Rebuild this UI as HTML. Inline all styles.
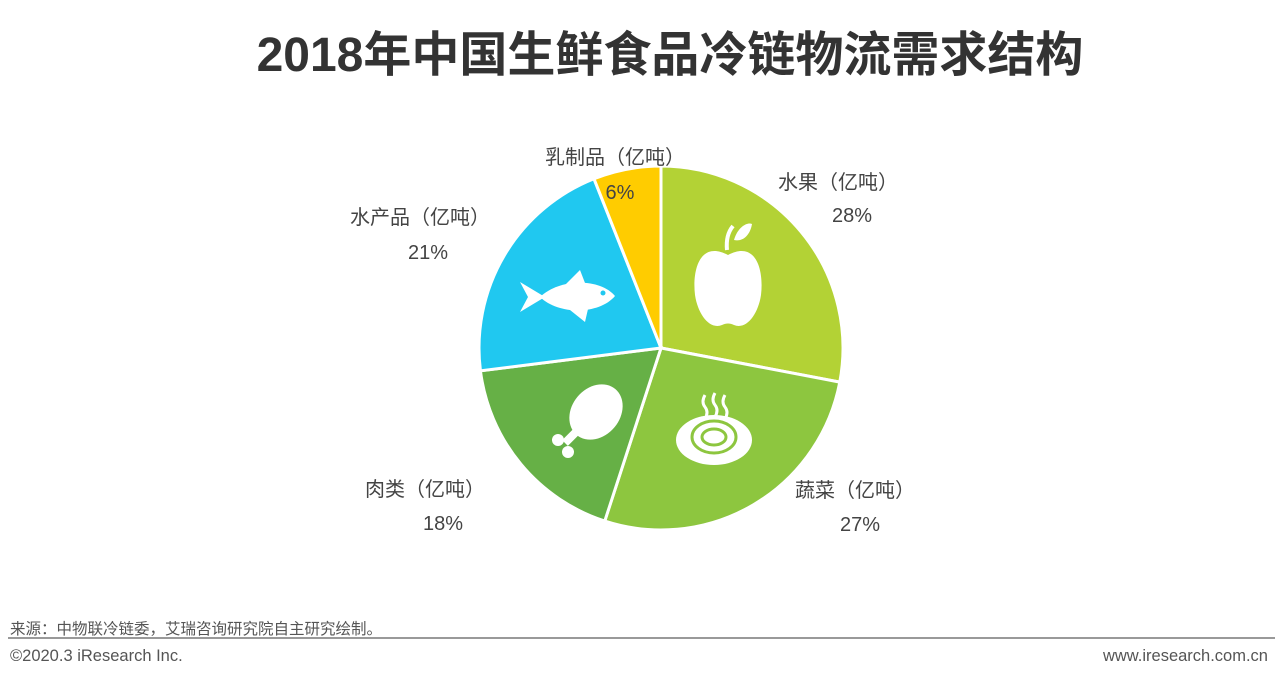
<!DOCTYPE html>
<html><head><meta charset="utf-8"><style>
body{margin:0;width:1280px;height:681px;background:#fff;overflow:hidden;position:relative;font-family:"Liberation Sans","Noto Sans CJK SC",sans-serif;color:#444}
.t{position:absolute;white-space:nowrap}
</style></head><body>
<div class="t" style="left:0;width:1340px;text-align:center;top:15px;font-size:48px;font-weight:bold;color:#333">2018年中国生鲜食品冷链物流需求结构</div>
<svg id="pie" width="1280" height="681" style="position:absolute;left:0;top:0"></svg>
<div class="t" style="left:10px;top:617px;font-size:15.5px;color:#555">来源：中物联冷链委，艾瑞咨询研究院自主研究绘制。</div>
<div style="position:absolute;left:8px;width:1267px;top:637px;height:2px;background:#999"></div>
<div class="t" style="left:10px;top:647px;font-size:16.5px;color:#555">©2020.3 iResearch Inc.</div>
<div class="t" style="right:12px;top:647px;font-size:16.5px;color:#555">www.iresearch.com.cn</div>
<script>
const categories=["水果（亿吨）","蔬菜（亿吨）","肉类（亿吨）","水产品（亿吨）","乳制品（亿吨）"];
const values=[28,27,18,21,6];
const colors=["#b3d235","#8dc63f","#66b046","#20c8f0","#ffcc00"];
const labelPos=[[838,189,852,222],[855,497,860,531],[425,496,443,530],[420,224,428,259],[615,164,620,199]];
const svg=document.getElementById('pie');const NS='http://www.w3.org/2000/svg';
const cx=661,cy=348,r=182;const total=values.reduce((a,b)=>a+b,0);
let a0=-Math.PI/2;
values.forEach((v,i)=>{const a1=a0+v/total*2*Math.PI;
const p=document.createElementNS(NS,'path');
const x0=cx+r*Math.cos(a0),y0=cy+r*Math.sin(a0),x1=cx+r*Math.cos(a1),y1=cy+r*Math.sin(a1);
p.setAttribute('d',`M${cx},${cy}L${x0},${y0}A${r},${r} 0 ${(a1-a0)>Math.PI?1:0} 1 ${x1},${y1}Z`);
p.setAttribute('fill',colors[i]);p.setAttribute('stroke','#fff');p.setAttribute('stroke-width','3');


svg.appendChild(p);
const lp=labelPos[i];
[[categories[i],lp[0],lp[1]],[v+'%',lp[2],lp[3]]].forEach(([s,x,y],k)=>{
const t=document.createElementNS(NS,'text');t.setAttribute('x',x);t.setAttribute('y',y);t.setAttribute('text-anchor','middle');
t.setAttribute('font-size','20');t.setAttribute('fill','#444');t.textContent=s;


svg.appendChild(t);});
a0=a1;});
</script>
<svg width="1280" height="681" style="position:absolute;left:0;top:0">
<g fill="#fff">
<path d="M728,255 C700,240 692,270 695,295 C698,315 710,330 722,325 C726,323 730,323 734,325 C746,330 758,315 761,295 C764,270 756,240 728,255Z"/>
<path d="M727,250 C726,240 728,232 733,226" stroke="#fff" stroke-width="4" fill="none"/>
<path d="M734,240 C738,226 748,222 752,224 C750,236 742,242 734,240Z"/>
</g>
<g fill="#fff">
<path d="M540,297 C560,278 600,278 615,296 C600,314 560,316 540,297Z"/>
<path d="M545,297 L520,282 L528,297 L520,312Z"/>
<path d="M565,285 L580,270 L585,283Z"/><path d="M570,310 L585,322 L588,309Z"/>
<circle cx="603" cy="293" r="2.5" fill="#20c8f0"/>
</g>
<g fill="#fff">
<ellipse cx="596" cy="412" rx="24" ry="30" transform="rotate(40 596 412)"/>
<path d="M580,428 L565,443" stroke="#fff" stroke-width="8"/>
<circle cx="558" cy="440" r="6"/><circle cx="568" cy="452" r="6"/>
</g>
<g>
<ellipse cx="714" cy="440" rx="38" ry="25" fill="#fff"/>
<ellipse cx="714" cy="437" rx="22" ry="16" fill="none" stroke="#8dc63f" stroke-width="3"/>
<ellipse cx="714" cy="437" rx="12" ry="8" fill="none" stroke="#8dc63f" stroke-width="3"/>
<path d="M705,395 q-4,7 0,12 q4,5 0,12 M715,393 q-4,7 0,12 q4,5 0,12 M725,395 q-4,7 0,12 q4,5 0,12" stroke="#fff" stroke-width="3" fill="none"/>
</g>
</svg>
</body></html>
